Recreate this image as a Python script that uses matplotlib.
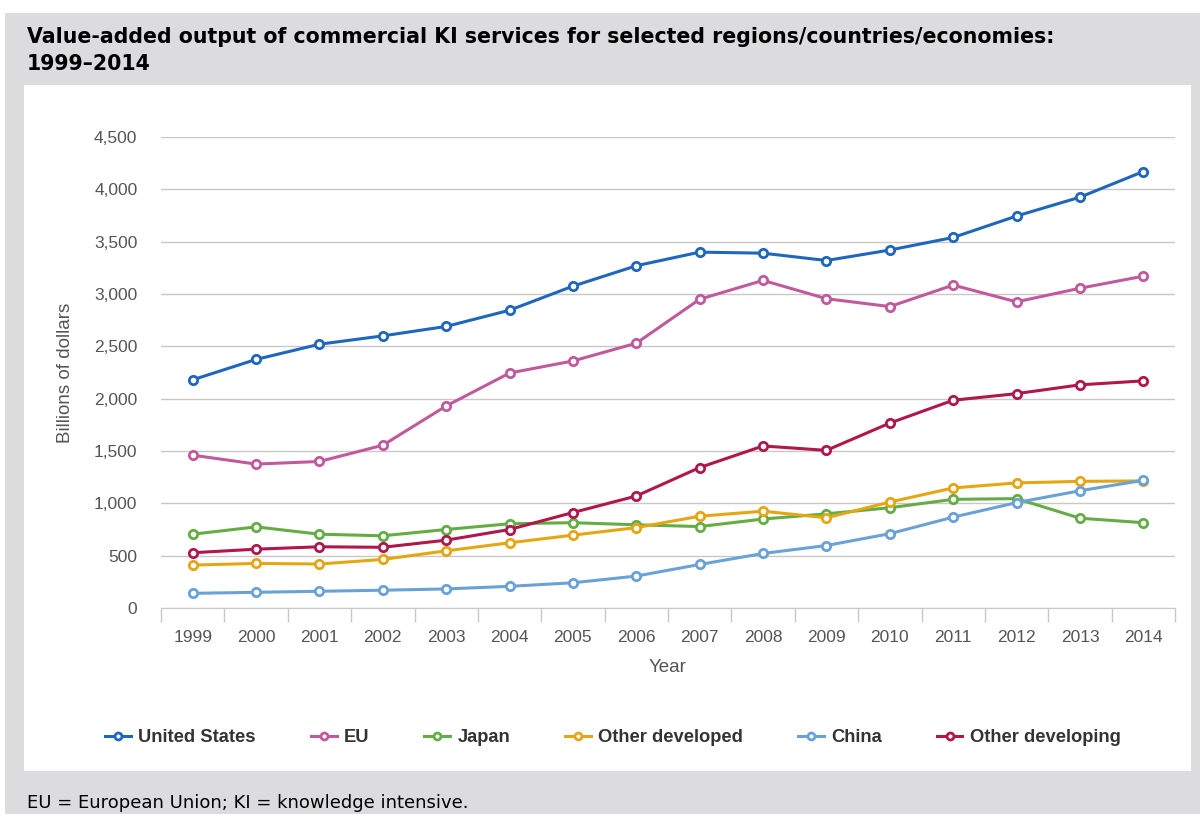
import numpy as np
import matplotlib.pyplot as plt
from matplotlib.patches import Rectangle
from matplotlib.ticker import FuncFormatter, FixedLocator

years = [1999, 2000, 2001, 2002, 2003, 2004, 2005, 2006, 2007, 2008, 2009, 2010, 2011, 2012, 2013, 2014]

united_states = [2180, 2375, 2520, 2600, 2690, 2845, 3075, 3270, 3400, 3390, 3320, 3420, 3540, 3745, 3925, 4170]
eu = [1460, 1375, 1400, 1555, 1930, 2245, 2360, 2530, 2950, 3130, 2955, 2880, 3085, 2925, 3055, 3170]
japan = [705, 775, 705, 690, 750, 805, 815, 795, 778, 850, 900, 958, 1038, 1045, 858, 815]
other_developed = [410, 426, 420, 464, 546, 623, 696, 768, 877, 925, 862, 1012, 1147, 1195, 1210, 1214]
china = [140, 150, 160, 170, 182, 207, 241, 305, 416, 521, 597, 710, 868, 1007, 1120, 1220]
other_developing = [528, 562, 585, 580, 648, 750, 912, 1070, 1342, 1548, 1506, 1767, 1985, 2048, 2132, 2170]

names = ["United States", "EU", "Japan", "Other developed", "China", "Other developing"]
series = [united_states, eu, japan, other_developed, china, other_developing]
colors = ["#1f66bd", "#c05a9c", "#64ad45", "#e5a614", "#6aa2d8", "#b0174c"]

fig = plt.figure(figsize=(12, 8.14), dpi=100)
fig.patch.set_facecolor("white")

W, H = 1200, 814
# grey frame and white panel
fig.add_artist(Rectangle((5 / W, 0), 1 - 5 / W, (H - 13) / H, transform=fig.transFigure,
                         facecolor="#dcdcde", edgecolor="none", zorder=0))
fig.add_artist(Rectangle((24 / W, (H - 771) / H), (1191 - 24) / W, (771 - 85) / H,
                         transform=fig.transFigure, facecolor="white", edgecolor="none", zorder=0))

fig.text(27 / W, 1 - 37 / H, "Value-added output of commercial KI services for selected regions/countries/economies:",
         fontsize=14.8, fontweight="bold", va="center", ha="left", color="black", family="DejaVu Sans")
fig.text(27 / W, 1 - 64 / H, "1999\u20132014",
         fontsize=14.8, fontweight="bold", va="center", ha="left", color="black", family="DejaVu Sans")
fig.text(27 / W, 1 - 803 / H, "EU = European Union; KI = knowledge intensive.",
         fontsize=13, va="center", ha="left", color="black", family="DejaVu Sans")

ax = fig.add_axes([161 / W, (H - 608) / H, (1175 - 161) / W, (608 - 137) / H])
ax.set_facecolor("white")
x = np.arange(len(years))
for name, vals, c in zip(names, series, colors):
    ax.plot(x, vals, color=c, lw=2.2, marker="o", ms=6, mfc="white", mec=c, mew=2, label=name, zorder=3)

ax.set_xlim(-0.5, len(years) - 0.5)
ax.set_ylim(0, 4500)
ax.set_yticks(np.arange(0, 4501, 500))
ax.yaxis.set_major_formatter(FuncFormatter(lambda v, p: f"{int(v):,}"))
ax.grid(axis="y", color="#c8c8c8", lw=1)
ax.set_axisbelow(True)
ax.set_xticks(x)
ax.set_xticklabels([str(y) for y in years])
ax.xaxis.set_minor_locator(FixedLocator(np.arange(-0.5, len(years), 1)))
ax.tick_params(axis="x", which="major", length=0, pad=16, labelsize=12.5, labelcolor="#555555")
ax.tick_params(axis="x", which="minor", length=10, color="#c8c8c8", width=1)
ax.tick_params(axis="y", length=0, pad=17, labelsize=12.5, labelcolor="#555555")
for s in ["top", "right", "left"]:
    ax.spines[s].set_visible(False)
ax.spines["bottom"].set_color("#c8c8c8")
for lab in ax.get_xticklabels() + ax.get_yticklabels():
    lab.set_family("Liberation Sans")

ax.set_xlabel("Year", fontsize=13.5, color="#555555", family="Liberation Sans", labelpad=10)
ax.set_ylabel("Billions of dollars", fontsize=13.5, color="#555555", family="Liberation Sans", labelpad=14)

leg = fig.legend(loc="center", bbox_to_anchor=(613 / W, 1 - 738 / H), ncol=6, frameon=False,
                 handlelength=1.4, handletextpad=0.4, columnspacing=3.0,
                 prop={"family": "Liberation Sans", "weight": "bold", "size": 13.2})
for t in leg.get_texts():
    t.set_color("#333333")
for h in leg.legend_handles:
    h.set_markersize(5)

fig.savefig("out.png", dpi=100, facecolor=fig.get_facecolor())
